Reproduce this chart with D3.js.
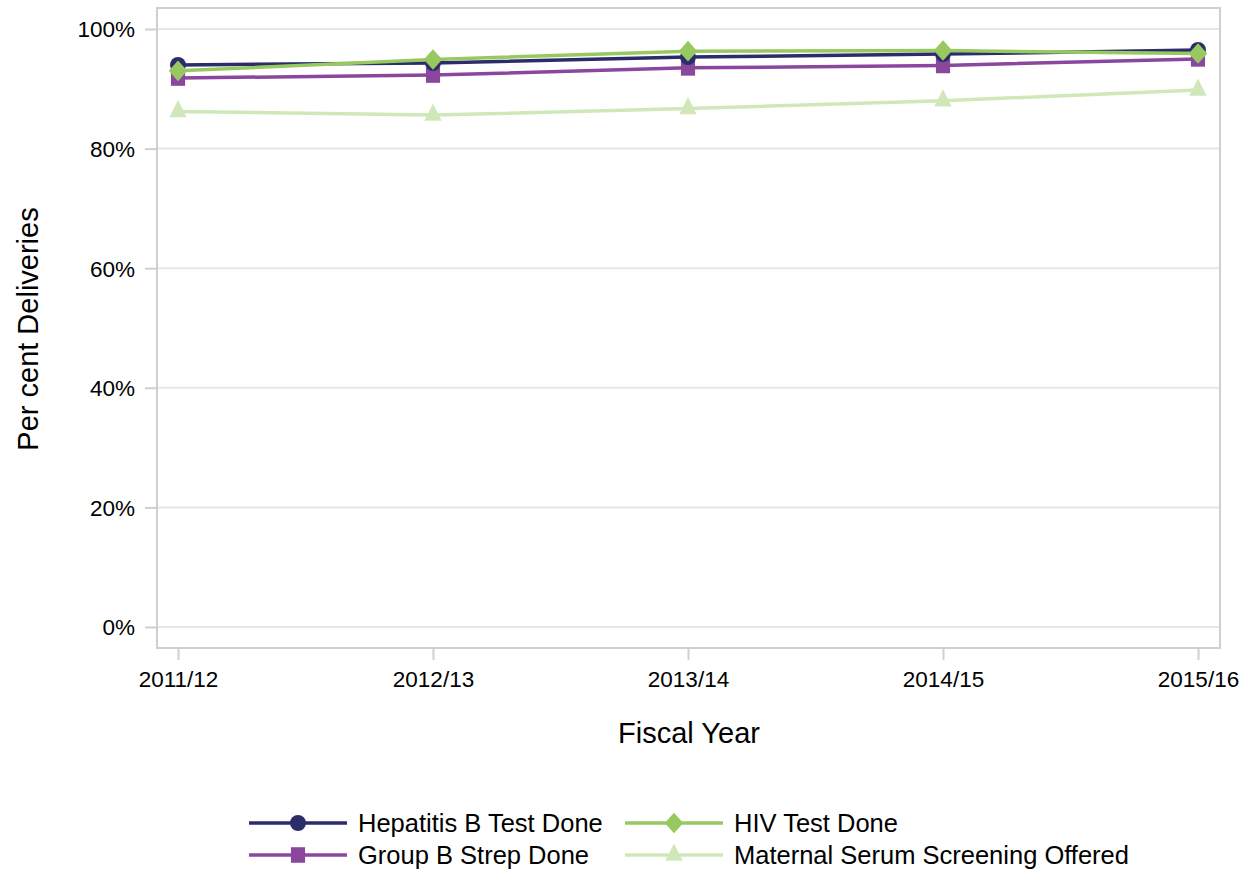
<!DOCTYPE html>
<html><head><meta charset="utf-8">
<script src="https://cdn.jsdelivr.net/npm/d3@7"></script>
<style>body{margin:0;background:#fff;}svg text{font-family:"Liberation Sans",Arial,sans-serif;fill:#000;}</style>
</head><body><svg id="c" width="1256" height="869"></svg>
<script>
const categories = ["2011/12","2012/13","2013/14","2014/15","2015/16"];
const hepB = [94.0, 94.3, 95.3, 95.8, 96.5];
const hiv = [93.0, 94.9, 96.3, 96.4, 95.9];
const gbs = [91.8, 92.3, 93.5, 93.9, 95.0];
const mss = [86.2, 85.6, 86.7, 88.0, 89.8];
const yTicks = [0, 20, 40, 60, 80, 100];

const series = [
  {name:"Hepatitis B Test Done", values:hepB, color:"#2b2d6b", sym:d3.symbolCircle, size:200, rot:0, sy:1},
  {name:"Group B Strep Done", values:gbs, color:"#8a479d", sym:d3.symbolSquare, size:200, rot:0, sy:1.1},
  {name:"HIV Test Done", values:hiv, color:"#98c961", sym:d3.symbolSquare, size:170, rot:45, sy:1.12},
  {name:"Maternal Serum Screening Offered", values:mss, color:"#d0e8b9", sym:d3.symbolTriangle, size:130, rot:0, sy:1.15}
];

const svg = d3.select("#c");
const fl = 157, fr = 1220, ft = 8, fb = 648;
const x = d3.scalePoint().domain(categories).range([178, 1198]);
const y = d3.scaleLinear().domain([0, 100]).range([627, 29]);

svg.append("g").selectAll("line").data(yTicks).join("line")
  .attr("x1", fl).attr("x2", fr).attr("y1", d=>y(d)).attr("y2", d=>y(d))
  .attr("stroke", "#e6e6e6").attr("stroke-width", 2);

svg.append("rect").attr("x", fl).attr("y", ft).attr("width", fr-fl).attr("height", fb-ft)
  .attr("fill","none").attr("stroke","#cfcfcf").attr("stroke-width",2);

const ya = svg.append("g").attr("transform", `translate(${fl},0)`)
  .call(d3.axisLeft(y).tickValues(yTicks).tickFormat(d=>d+"%").tickSize(12).tickPadding(10));
ya.select(".domain").remove();
ya.selectAll(".tick line").attr("stroke","#cfcfcf").attr("stroke-width",2);
ya.selectAll(".tick text").attr("font-size",22.5).attr("dy","0.35em");

const xa = svg.append("g").attr("transform", `translate(0,${fb})`)
  .call(d3.axisBottom(x).tickSize(12).tickPadding(11));
xa.select(".domain").remove();
xa.selectAll(".tick line").attr("stroke","#cfcfcf").attr("stroke-width",2);
xa.selectAll(".tick text").attr("font-size",22.5);

svg.append("text").attr("x", 689).attr("y", 743).attr("text-anchor","middle").attr("font-size",29).text("Fiscal Year");
svg.append("text").attr("transform","translate(38,329) rotate(-90)").attr("text-anchor","middle").attr("font-size",29).text("Per cent Deliveries");

const order = [series[3], series[1], series[0], series[2]];
const line = d3.line().x((d,i)=>x(categories[i])).y(d=>y(d));
order.forEach(s=>{
  svg.append("path").datum(s.values).attr("d", line).attr("fill","none")
    .attr("stroke", s.color).attr("stroke-width", 3.5);
});
order.forEach(s=>{
  svg.append("g").selectAll("path").data(s.values).join("path")
    .attr("transform", (d,i)=>`translate(${x(categories[i])},${y(d)}) scale(1,${s.sy}) rotate(${s.rot})`)
    .attr("d", d3.symbol().type(s.sym).size(s.size)).attr("fill", s.color);
});

const leg = [
  {s:series[0], lx:249, ly:823},
  {s:series[2], lx:625, ly:823},
  {s:series[1], lx:249, ly:855},
  {s:series[3], lx:625, ly:855}
];
leg.forEach(o=>{
  const g = svg.append("g").attr("transform", `translate(${o.lx},${o.ly})`);
  g.append("line").attr("x1",0).attr("x2",98).attr("stroke",o.s.color).attr("stroke-width",3.5);
  g.append("path").attr("transform",`translate(49,0) scale(1,${o.s.sy}) rotate(${o.s.rot})`).attr("d", d3.symbol().type(o.s.sym).size(o.s.size)).attr("fill",o.s.color);
  g.append("text").attr("x",109).attr("dy","0.35em").attr("font-size",25.5).text(o.s.name);
});
</script></body></html>
